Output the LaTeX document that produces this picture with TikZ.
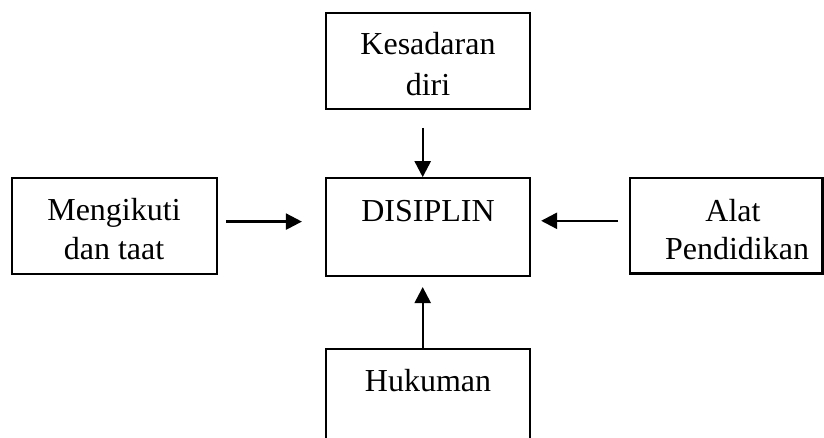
\documentclass[tikz,border=0pt]{standalone}
\usepackage{fontspec}
\setmainfont{Liberation Serif}
\usetikzlibrary{arrows.meta}
\tikzset{
  box/.style={draw=black, line width=2.2pt, minimum width=204pt, inner sep=0pt, fill=none},
  txt/.style={anchor=base, inner sep=0pt, font=\fontsize{32}{40}\selectfont},
  arr/.style={line width=2.4pt, -{Triangle[width=16pt,length=16pt]}}
}
\begin{document}
\begin{tikzpicture}[x=1pt,y=-1pt]
\useasboundingbox (0,0) rectangle (824,438);
\clip (0,0) rectangle (824,438);
% boxes
\node[box, minimum height=96pt] (kes) at (428,61.3) {};
\node[box, minimum height=97.7pt] (dis) at (428,227.1) {};
\node[box, minimum width=205pt, minimum height=95.7pt] (men) at (114.2,226.2) {};
\node[box, minimum width=192.4pt, minimum height=95.5pt] (alat) at (726.2,225.8) {};
\node[box, minimum height=97pt] (huk) at (428,397.8) {};
% texts
\node[txt] (kes1) at (428,55) {Kesadaran};
\node[txt] (kes2) at (428,95.5) {diri};
\node[txt] (dis1) at (428,221.7) {DISIPLIN};
\node[txt] (men1) at (114,220.5) {Mengikuti};
\node[txt] (men2) at (114,260) {dan taat};
\node[txt] (alat1) at (733,221.5) {Alat};
\node[txt] (alat2) at (737,260) {Pendidikan};
\node[txt] (huk1) at (428,391.7) {Hukuman};
% connectors
\draw[arr, shorten <=17.4pt] ([xshift=-5.3pt]kes.south) -- ([xshift=-5.3pt]dis.north);
\draw[arr, shorten <=8.5pt, shorten >=23pt] ([yshift=4.6pt]men.east) -- ([yshift=4.6pt]men.east -| dis.west);
\draw[arr, shorten <=10.7pt, shorten >=10pt] ([yshift=5pt]alat.west) -- ([yshift=5pt]alat.west -| dis.east);
\draw[arr, shorten >=10pt] ([xshift=-5.3pt]huk.north) -- ([xshift=-5.3pt]dis.south);
\end{tikzpicture}
\end{document}
